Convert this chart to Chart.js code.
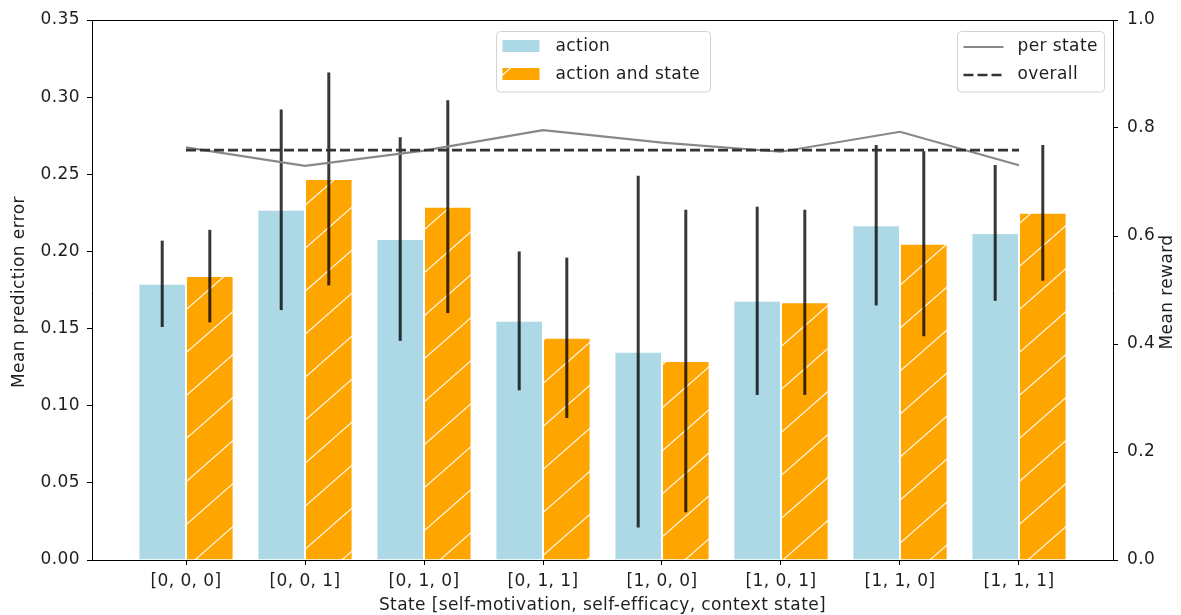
<!DOCTYPE html>
<html>
<head>
<meta charset="utf-8">
<script src="https://cdn.jsdelivr.net/npm/chart.js@4.4.1/dist/chart.umd.min.js"></script>
<style>
html,body{margin:0;padding:0;background:#fff;overflow:hidden;}
#wrap{position:absolute;left:0;top:0;width:1181px;height:615px;}
</style>
</head>
<body>
<div id="wrap"><canvas id="c"></canvas></div>
<script>
// ---- data ----
const categories = ['[0, 0, 0]','[0, 0, 1]','[0, 1, 0]','[0, 1, 1]','[1, 0, 0]','[1, 0, 1]','[1, 1, 0]','[1, 1, 1]'];
const actionError    = [0.179, 0.227, 0.208, 0.155, 0.135, 0.168, 0.217, 0.212];
const actionErrorStd = [0.028, 0.065, 0.066, 0.045, 0.114, 0.061, 0.052, 0.044];
const stateError     = [0.184, 0.247, 0.229, 0.144, 0.129, 0.167, 0.205, 0.225];
const stateErrorStd  = [0.030, 0.069, 0.069, 0.052, 0.098, 0.060, 0.060, 0.044];
const rewardPerState = [0.764, 0.730, 0.758, 0.796, 0.773, 0.756, 0.793, 0.731];
const rewardOverall  = [0.759];
const seriesLabels   = ['action', 'action and state', 'per state', 'overall'];
const axisTitles     = ['State [self-motivation, self-efficacy, context state]', 'Mean prediction error', 'Mean reward'];

// ---- style ----
const FONT_FAMILY = "'DejaVu Sans', sans-serif";
const FONT_SIZE = 17;
const LS = '0.4px';
const TXT = '#1e1e1e';
const BLUE = '#ADD8E6';
const ORANGE = '#FFA500';

function makeHatch(ctx){
  const w = 49, h = 43;
  const c = document.createElement('canvas');
  c.width = w; c.height = h;
  const g = c.getContext('2d');
  g.fillStyle = ORANGE; g.fillRect(0,0,w,h);
  g.strokeStyle = 'rgba(255,255,255,0.95)';
  g.lineWidth = 1.2;
  for (const k of [-1,0,1]) {
    g.beginPath();
    g.moveTo(k*w - w*0.1, h + h*0.1);
    g.lineTo(k*w + w*1.1, -h*0.1);
    g.stroke();
  }
  return ctx.createPattern(c, 'repeat');
}

const canvas = document.getElementById('c');
const hatch = makeHatch(canvas.getContext('2d'));

function font(){ return FONT_SIZE + 'px ' + FONT_FAMILY; }

const custom = {
  id: 'custom',
  beforeLayout(chart){ chart.ctx.letterSpacing = LS; },
  beforeDraw(chart){ chart.ctx.letterSpacing = LS; },
  afterDatasetDraw(chart, args){
    if (args.index !== 0) return;
    const ctx = chart.ctx, ys = chart.scales.y;
    ctx.save();
    ctx.strokeStyle = 'rgba(0,0,0,0.78)';
    ctx.lineWidth = 3;
    ctx.lineCap = 'butt';
    [[0, actionError, actionErrorStd], [1, stateError, stateErrorStd]].forEach(([di, m, s]) => {
      chart.getDatasetMeta(di).data.forEach((bar, i) => {
        const x = bar.x;
        ctx.beginPath();
        ctx.moveTo(x, ys.getPixelForValue(m[i] + s[i]));
        ctx.lineTo(x, ys.getPixelForValue(m[i] - s[i]));
        ctx.stroke();
      });
    });
    ctx.restore();
  },
  afterDraw(chart){
    const ctx = chart.ctx, a = chart.chartArea;
    ctx.save();
    ctx.letterSpacing = LS;
    // top spine
    ctx.strokeStyle = '#000'; ctx.lineWidth = 1;
    ctx.beginPath(); ctx.moveTo(a.left, a.top + 0.5); ctx.lineTo(a.right + 1, a.top + 0.5); ctx.stroke();
    // axis titles
    ctx.fillStyle = TXT; ctx.font = font();
    ctx.textAlign = 'center'; ctx.textBaseline = 'middle';
    const midY = (a.top + a.bottom) / 2;
    ctx.fillText(axisTitles[0], (a.left + a.right) / 2, 606);
    ctx.save(); ctx.translate(20, midY + 2); ctx.rotate(-Math.PI/2); ctx.fillText(axisTitles[1], 0, 0); ctx.restore();
    ctx.save(); ctx.translate(1168, midY + 2); ctx.rotate(-Math.PI/2); ctx.fillText(axisTitles[2], 0, 0); ctx.restore();

    // legend boxes
    function box(x, y, w, h){
      const r = 4;
      ctx.beginPath();
      ctx.moveTo(x + r, y); ctx.lineTo(x + w - r, y); ctx.quadraticCurveTo(x + w, y, x + w, y + r);
      ctx.lineTo(x + w, y + h - r); ctx.quadraticCurveTo(x + w, y + h, x + w - r, y + h);
      ctx.lineTo(x + r, y + h); ctx.quadraticCurveTo(x, y + h, x, y + h - r);
      ctx.lineTo(x, y + r); ctx.quadraticCurveTo(x, y, x + r, y);
      ctx.closePath();
      ctx.fillStyle = 'rgba(255,255,255,0.85)'; ctx.fill();
      ctx.strokeStyle = '#d3d3d3'; ctx.lineWidth = 1; ctx.stroke();
    }
    const cx = (a.left + a.right) / 2;
    const b1w = 214, b1x = Math.round(cx - b1w / 2) + 0.5;
    box(b1x, 31.5, b1w, 60.5);
    ctx.fillStyle = BLUE; ctx.fillRect(b1x + 6, 40, 37, 12);
    ctx.fillStyle = hatch; ctx.fillRect(b1x + 6, 68, 37, 12);
    ctx.fillStyle = TXT; ctx.textAlign = 'left'; ctx.textBaseline = 'middle'; ctx.font = font();
    ctx.fillText(seriesLabels[0], b1x + 59, 46.5);
    ctx.fillText(seriesLabels[1], b1x + 59, 74.5);

    const b2w = 147, b2x = Math.round(a.right - 9 - b2w) + 0.5;
    box(b2x, 31.5, b2w, 60.5);
    ctx.strokeStyle = '#888'; ctx.lineWidth = 2.2; ctx.setLineDash([]);
    ctx.beginPath(); ctx.moveTo(b2x + 6, 47); ctx.lineTo(b2x + 46, 47); ctx.stroke();
    ctx.strokeStyle = '#333'; ctx.lineWidth = 2.6; ctx.setLineDash([10, 4]);
    ctx.beginPath(); ctx.moveTo(b2x + 6, 75); ctx.lineTo(b2x + 46, 75); ctx.stroke();
    ctx.setLineDash([]);
    ctx.fillStyle = TXT;
    ctx.fillText(seriesLabels[2], b2x + 60, 46.5);
    ctx.fillText(seriesLabels[3], b2x + 60, 74.5);
    ctx.restore();
  }
};

const tickFont = { family: FONT_FAMILY, size: FONT_SIZE };

new Chart(canvas, {
  data: {
    datasets: [
      {
        type: 'bar', label: seriesLabels[0],
        data: categories.map((_, i) => ({ x: i, y: actionError[i] })),
        backgroundColor: BLUE, borderColor: '#ffffff', borderWidth: 1,
        categoryPercentage: 0.8, barPercentage: 1.0,
        xAxisID: 'x', yAxisID: 'y', order: 3
      },
      {
        type: 'bar', label: seriesLabels[1],
        data: categories.map((_, i) => ({ x: i, y: stateError[i] })),
        backgroundColor: hatch, borderColor: '#ffffff', borderWidth: 1,
        categoryPercentage: 0.8, barPercentage: 1.0,
        xAxisID: 'x', yAxisID: 'y', order: 3
      },
      {
        type: 'line', label: seriesLabels[2],
        data: categories.map((_, i) => ({ x: i, y: rewardPerState[i] })),
        borderColor: '#888888', borderWidth: 2.2, pointRadius: 0, tension: 0, fill: false,
        xAxisID: 'x', yAxisID: 'y1', order: 2
      },
      {
        type: 'line', label: seriesLabels[3],
        data: [{ x: 0, y: rewardOverall[0] }, { x: categories.length - 1, y: rewardOverall[0] }],
        borderColor: '#333333', borderWidth: 2.6, borderDash: [10, 4], pointRadius: 0, fill: false,
        xAxisID: 'x', yAxisID: 'y1', order: 1
      }
    ]
  },
  options: {
    responsive: true, maintainAspectRatio: false, animation: false, events: [],
    layout: { padding: { top: 20, left: 0, right: 0, bottom: 0 } },
    plugins: { legend: { display: false }, tooltip: { enabled: false } },
    scales: {
      x: {
        type: 'linear', position: 'bottom', min: -0.79, max: 7.79, offset: false,
        afterBuildTicks: (s) => { s.ticks = categories.map((_, i) => ({ value: i })); },
        afterFit: (s) => { s.height = 55; },
        ticks: { callback: (v) => categories[v] !== undefined ? categories[v] : '', font: tickFont, color: TXT, padding: 6, maxRotation: 0, autoSkip: false },
        grid: { offset: false, drawOnChartArea: false, drawTicks: true, tickLength: 5, color: '#000', tickColor: '#000' },
        border: { display: true, color: '#000', width: 1 }
      },
      y: {
        type: 'linear', position: 'left', min: 0, max: 0.35,
        afterFit: (s) => { s.width = 92; },
        ticks: { stepSize: 0.05, callback: (v) => Number(v).toFixed(2), font: tickFont, color: TXT, padding: 7 },
        grid: { drawOnChartArea: false, drawTicks: true, tickLength: 5, color: '#000', tickColor: '#000' },
        border: { display: true, color: '#000', width: 1 }
      },
      y1: {
        type: 'linear', position: 'right', min: 0, max: 1.0,
        afterFit: (s) => { s.width = 68; },
        ticks: { stepSize: 0.2, callback: (v) => Number(v).toFixed(1), font: tickFont, color: TXT, padding: 9 },
        grid: { drawOnChartArea: false, drawTicks: true, tickLength: 5, color: '#000', tickColor: '#000' },
        border: { display: true, color: '#000', width: 1 }
      }
    }
  },
  plugins: [custom]
});
</script>
</body>
</html>
